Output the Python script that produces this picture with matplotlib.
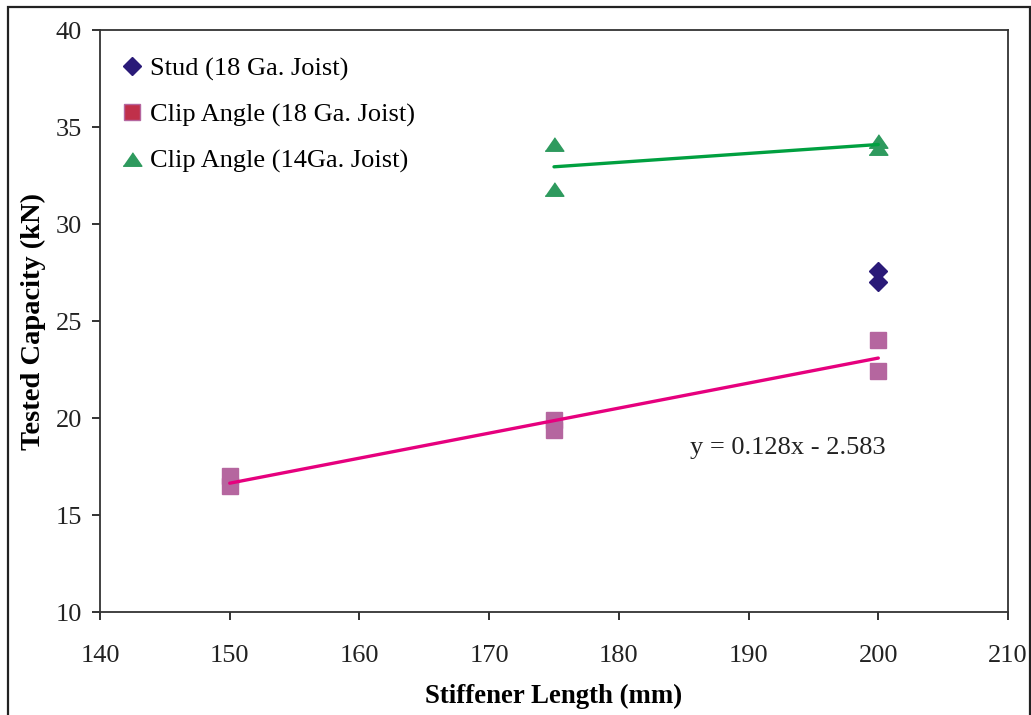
import numpy as np
import matplotlib
matplotlib.use("Agg")
import matplotlib.pyplot as plt
from matplotlib.lines import Line2D
from matplotlib.patches import Rectangle

plt.rcParams["font.family"] = ["Liberation Serif", "DejaVu Serif"]

# data
stud_x = [200, 200]
stud_y = [27.6, 27.0]

clip18_x = [150, 150, 175, 175, 200, 200]
clip18_y = [17.0, 16.5, 19.9, 19.4, 24.0, 22.4]

clip14_x = [175, 175, 200, 200]
clip14_y = [34.1, 31.8, 34.3, 33.9]

labels = ["Stud (18 Ga. Joist)", "Clip Angle (18 Ga. Joist)", "Clip Angle (14Ga. Joist)"]
equation = "y = 0.128x - 2.583"

xticks = [140, 150, 160, 170, 180, 190, 200, 210]
yticks = [10, 15, 20, 25, 30, 35, 40]

c_stud = "#2a1a78"
c_sq = "#b5669f"
c_sq_leg = "#c0304a"
c_tri = "#2e9a5e"
c_green = "#00a040"
c_pink = "#e6007e"

tri = [(-1, -0.72), (1, -0.72), (0, 0.72)]

fig = plt.figure(figsize=(10.31, 7.15), dpi=100)
ax = fig.add_axes([0.097, 0.144, 0.8807, 0.814])

# trend lines (least squares over the points)
for xs, ys, col in [(clip18_x, clip18_y, c_pink), (clip14_x, clip14_y, c_green)]:
    k, b = np.polyfit(xs, ys, 1)
    xx = np.array([min(xs), max(xs)])
    ax.plot(xx, k * xx + b, color=col, lw=2.4, solid_capstyle="round", zorder=3)

ax.plot(stud_x, stud_y, ls="none", marker="D", ms=9.5, color=c_stud, mec=c_stud, zorder=4)
ax.plot(clip18_x, clip18_y, ls="none", marker="s", ms=12, color=c_sq, mec=c_sq, zorder=2)
ax.plot(clip14_x, clip14_y, ls="none", marker=tri, ms=13.5, color=c_tri, mec=c_tri, zorder=2)

ax.text(185.5, 18.45, equation, fontsize=19, va="center", ha="left", color="#222222")

ax.set_xlim(140, 210)
ax.set_ylim(10, 40)
ax.set_xticks(xticks)
ax.set_yticks(yticks)
ax.tick_params(direction="out", length=6, width=1.3, labelsize=19, colors="#222222")
ax.tick_params(axis="x", pad=17.5)
ax.tick_params(axis="y", pad=7)
for s in ax.spines.values():
    s.set_linewidth(1.3)
    s.set_color("#333333")

ax.set_xlabel("Stiffener Length (mm)", fontsize=19.3, fontweight="bold", labelpad=12.5)
ax.set_ylabel("Tested Capacity (kN)", fontsize=20.5, fontweight="bold", labelpad=7)

handles = [
    Line2D([], [], ls="none", marker="D", ms=9.5, color=c_stud),
    Line2D([], [], ls="none", marker="s", ms=11.5, color=c_sq_leg, mec=c_sq, mew=1),
    Line2D([], [], ls="none", marker=tri, ms=13.5, color=c_tri),
]
ax.legend(handles, labels, loc="upper left", bbox_to_anchor=(0.0, 0.995), frameon=False,
          fontsize=19, handlelength=0.6, handletextpad=0.38, labelspacing=0.85)

# outer frame around the chart area
fig.add_artist(Rectangle((8 / 1031, -0.05), 1022 / 1031, 1 - 7 / 715 + 0.05,
                         transform=fig.transFigure, fill=False, lw=1.6, ec="#222222"))

fig.savefig("out.png", dpi=100)
